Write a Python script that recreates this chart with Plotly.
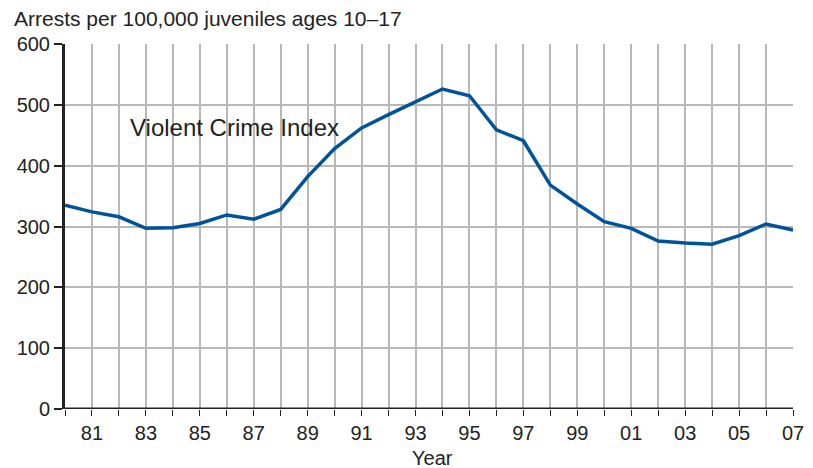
import plotly.graph_objects as go

years = list(range(1980, 2008))
violent_crime_index = [335, 324, 316, 297, 298, 305, 319, 312, 328, 382, 428, 462, 484, 505, 526, 515,
                       459, 441, 368, 337, 308, 297, 276, 273, 271, 285, 304, 294]
x_tick_labels = [("%02d" % (y % 100)) if y % 2 == 1 else "" for y in years]
y_ticks = [0, 100, 200, 300, 400, 500, 600]

fig = go.Figure()
fig.add_trace(go.Scatter(x=years, y=violent_crime_index, mode="lines",
                         line=dict(color="#00539b", width=3.5), showlegend=False))

fig.update_layout(
    width=805, height=460,
    margin=dict(l=57, r=20, t=36, b=59),
    plot_bgcolor="white", paper_bgcolor="white",
    font=dict(family="Liberation Sans, Arial, sans-serif", color="#222222"),
    xaxis=dict(range=[1980, 2007], tickvals=years, ticktext=x_tick_labels,
               showgrid=True, gridcolor="#b8b8b8", gridwidth=1.5,
               ticks="outside", ticklen=6, tickcolor="#222222", tickwidth=1,
               showline=False, zeroline=False, automargin=False,
               tickfont=dict(size=20)),
    yaxis=dict(range=[0, 600], tickvals=y_ticks,
               showgrid=True, gridcolor="#b8b8b8", gridwidth=1.5,
               ticks="outside", ticklen=8, tickcolor="#222222", tickwidth=1.5,
               showline=True, linecolor="#222222", linewidth=3, automargin=False,
               zeroline=False, tickfont=dict(size=20)),
    annotations=[
        dict(text="Arrests per 100,000 juveniles ages 10–17", x=0, y=1, xref="paper", yref="paper",
             xshift=-53, yshift=26, xanchor="left", yanchor="middle", showarrow=False,
             font=dict(size=21)),
        dict(text="Year", x=0.5, y=0, xref="paper", yref="paper", xshift=3, yshift=-49,
             xanchor="center", yanchor="middle", showarrow=False, font=dict(size=20)),
        dict(text="Violent Crime Index", x=1982.35, y=463, xanchor="left", yanchor="middle",
             showarrow=False, font=dict(size=24)),
    ],
    shapes=[dict(type="line", xref="x", yref="y", x0=1980, x1=2007, y0=0, y1=0,
                 line=dict(color="#222222", width=3))],
)

fig.write_html("out.html")
